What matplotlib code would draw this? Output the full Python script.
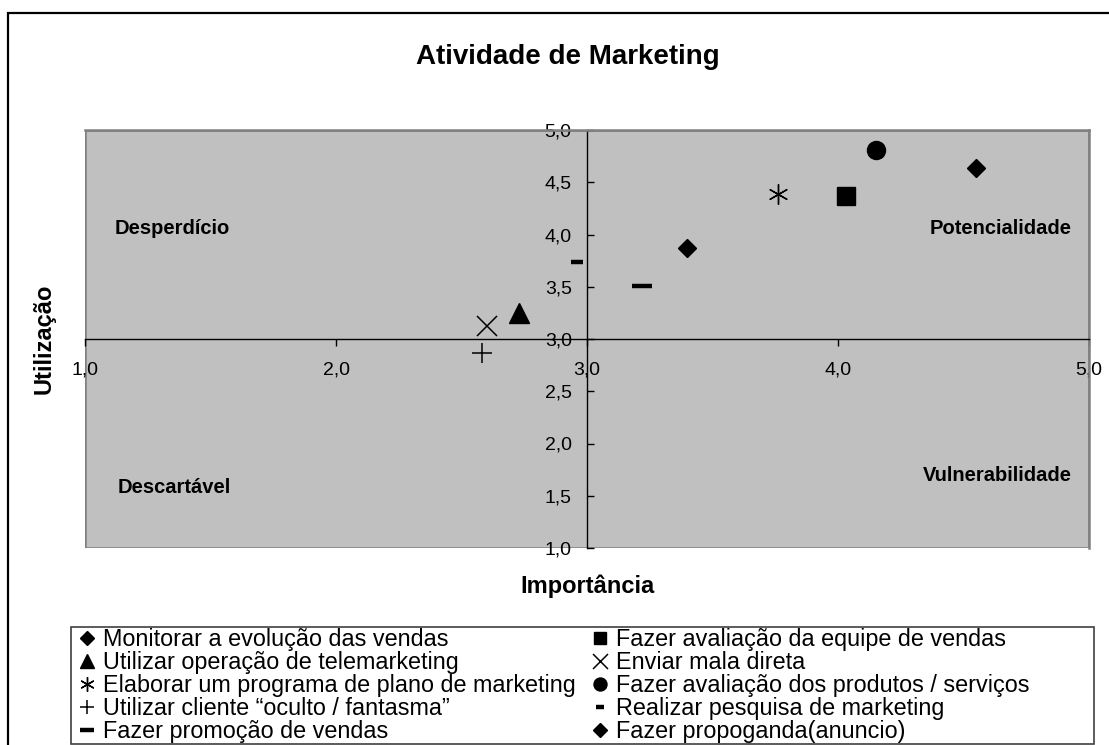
import matplotlib.pyplot as plt
from matplotlib.patches import Rectangle
from matplotlib.ticker import FuncFormatter, MultipleLocator

plt.rcParams['font.family'] = ['Liberation Sans', 'DejaVu Sans']

# legend order (column by column)
labels = [
    "Monitorar a evolução das vendas",
    "Utilizar operação de telemarketing",
    "Elaborar um programa de plano de marketing",
    "Utilizar cliente “oculto / fantasma”",
    "Fazer promoção de vendas",
    "Fazer avaliação da equipe de vendas",
    "Enviar mala direta",
    "Fazer avaliação dos produtos / serviços",
    "Realizar pesquisa de marketing",
    "Fazer propoganda(anuncio)",
]
importancia = [3.40, 2.73, 3.76, 2.58, 3.22, 4.03, 2.60, 4.15, 2.96, 4.55]
utilizacao = [3.87, 3.25, 4.39, 2.87, 3.51, 4.37, 3.12, 4.81, 3.74, 4.64]

markers = ['D', '^', (6, 2, 0), '+', '_', 's', 'x', 'o', '_', 'D']
msizes = [9.5, 14, 14.5, 14.5, 14, 12.5, 15, 13, 8, 9.5]
mwidths = [1, 1, 1.0, 1.1, 3.2, 1, 1.1, 1, 3.2, 1]

quadrants = ["Desperdício", "Potencialidade", "Descartável", "Vulnerabilidade"]

W, H = 1109, 745
fig = plt.figure(figsize=(W / 100, H / 100), dpi=100)

# outer frame of the figure
fig.patches.append(Rectangle((8 / W, -0.1), 1.2, 1 - 13 / H + 0.1,
                             transform=fig.transFigure, fill=False,
                             edgecolor='black', linewidth=1.6))

ax = fig.add_axes([85 / W, 1 - 548 / H, (1089 - 85) / W, (548 - 130) / H])
ax.set_facecolor('#C0C0C0')
ax.set_xlim(1, 5)
ax.set_ylim(1, 5)

# axes crossing at (3, 3)
ax.spines['left'].set_position(('data', 3))
ax.spines['bottom'].set_position(('data', 3))
for s in ['left', 'bottom']:
    ax.spines[s].set_color('black')
    ax.spines[s].set_linewidth(1)
for s in ['top', 'right']:
    ax.spines[s].set_color('#808080')
    ax.spines[s].set_linewidth(1.8)
ax.add_patch(Rectangle((0, 0), 1, 1, transform=ax.transAxes, fill=False,
                       edgecolor='#808080', linewidth=1.8, zorder=0.5))

ax.xaxis.set_major_locator(MultipleLocator(1.0))
ax.yaxis.set_major_locator(MultipleLocator(0.5))
fmt = FuncFormatter(lambda v, p: f"{v:.1f}".replace('.', ','))
ax.xaxis.set_major_formatter(fmt)
ax.yaxis.set_major_formatter(fmt)
ax.tick_params(axis='x', direction='out', length=5, width=1, pad=11,
               labelsize=14)
ax.tick_params(axis='y', direction='in', length=5, width=1, pad=11,
               labelsize=14)

for x, y, lab, m, ms, mw in zip(importancia, utilizacao, labels, markers,
                                msizes, mwidths):
    ax.plot(x, y, linestyle='none', marker=m, markersize=ms,
            markeredgewidth=mw, color='black', label=lab, clip_on=False)

ax.text(1.12, 4.06, quadrants[0], fontsize=14.5, fontweight='bold',
        ha='left', va='center')
ax.text(4.93, 4.06, quadrants[1], fontsize=14.5, fontweight='bold',
        ha='right', va='center')
ax.text(1.13, 1.58, quadrants[2], fontsize=14.5, fontweight='bold',
        ha='left', va='center')
ax.text(4.93, 1.69, quadrants[3], fontsize=14.5, fontweight='bold',
        ha='right', va='center')

ax.set_xlabel("Importância", fontsize=17, fontweight='bold')
ax.xaxis.set_label_coords(0.5, (548 - 574) / 418)
ax.set_ylabel("Utilização", fontsize=17, fontweight='bold')
ax.yaxis.set_label_coords((56 - 85) / 1004, 0.5)

fig.text(568 / W, 1 - 57 / H, "Atividade de Marketing", fontsize=20,
         fontweight='bold', ha='center', va='center')

# legend box
fig.patches.append(Rectangle((71 / W, 1 - 744 / H), (1094 - 71) / W,
                             (744 - 627) / H, transform=fig.transFigure,
                             fill=False, edgecolor='#404040', linewidth=1.2))
fig.legend(loc='upper left', bbox_to_anchor=(81 / W, 1 - 628 / H), ncol=2,
           frameon=False, fontsize=16.8, markerscale=0.72, handlelength=0.55,
           handletextpad=0.4, labelspacing=0.0, columnspacing=0.75,
           borderpad=0, borderaxespad=0)

fig.savefig('out.png', dpi=100)
